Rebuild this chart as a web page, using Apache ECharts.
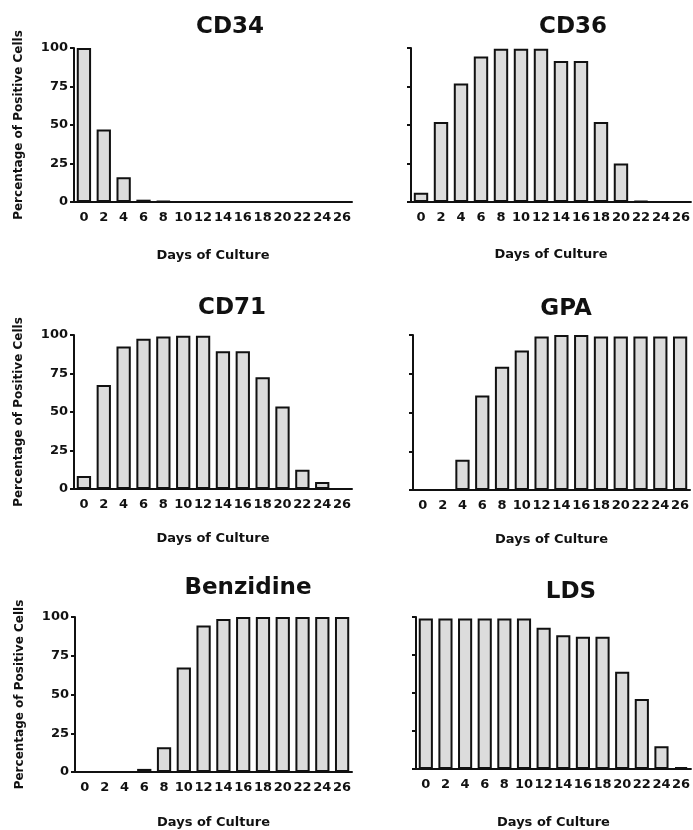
<!DOCTYPE html>
<html>
<head>
<meta charset="utf-8">
<script src="https://cdn.jsdelivr.net/npm/echarts@6/dist/echarts.min.js"></script>
<style>
  html, body { margin: 0; padding: 0; background: #fff; }
  #chart { width: 693px; height: 830px; }
</style>
</head>
<body>
<div id="chart"></div>
<script>
  // days of culture (categories)
  var days = ['0', '2', '4', '6', '8', '10', '12', '14', '16', '18', '20', '22', '24', '26'];

  // percentage of positive cells
  var cd34 = [100, 47, 16, 1.5, 0.5, 0, 0, 0, 0, 0, 0, 0, 0, 0];
  var cd36 = [6, 52, 77, 94.5, 99.5, 99.5, 99.5, 91.5, 91.5, 52, 25, 0.6, 0, 0];
  var cd71 = [8.5, 67.5, 92.5, 97.5, 99, 99.5, 99.5, 89.5, 89.5, 72.5, 53.5, 12.5, 4.5, 0];
  var gpa = [0, 0, 19.5, 61, 79.5, 90, 99, 100, 100, 99, 99, 99, 99, 99];
  var benzidine = [0, 0, 0, 2, 16, 67.5, 94.5, 98.7, 100, 100, 100, 100, 100, 100];
  var lds = [99, 99, 99, 99, 99, 99, 93, 88, 87, 87, 64, 46, 15, 1.3];

  var FONT = 'DejaVu Sans';
  var INK = '#111';

  var panels = [
    { name: 'CD34', data: cd34, left: 74, top: 48, width: 278, height: 154, tx: 230, ty: 27, gap: 47, yLabels: true },
    { name: 'CD36', data: cd36, left: 411, top: 48, width: 280, height: 154, tx: 573, ty: 27, gap: 46, yLabels: false },
    { name: 'CD71', data: cd71, left: 74, top: 335, width: 278, height: 154, tx: 232, ty: 308, gap: 43, yLabels: true },
    { name: 'GPA', data: gpa, left: 413, top: 335, width: 277, height: 155, tx: 566, ty: 309, gap: 43, yLabels: false },
    { name: 'Benzidine', data: benzidine, left: 75, top: 617, width: 277, height: 155, tx: 248, ty: 588, gap: 44, yLabels: true },
    { name: 'LDS', data: lds, left: 416, top: 617, width: 279, height: 155, tx: 571, ty: 592, gap: 47, yLabels: false }
  ];

  var titles = [], grids = [], xAxes = [], yAxes = [], series = [];

  panels.forEach(function (p, i) {
    titles.push({
      text: p.name,
      left: p.tx,
      top: p.ty - 13,
      textAlign: 'center',
      padding: 0,
      textStyle: { fontFamily: FONT, fontSize: 23, fontWeight: 'bold', color: INK, lineHeight: 26 }
    });
    grids.push({ left: p.left, top: p.top, width: p.width, height: p.height, containLabel: false });
    xAxes.push({
      type: 'category',
      gridIndex: i,
      data: days,
      name: 'Days of Culture',
      nameLocation: 'middle',
      nameGap: p.gap,
      nameTextStyle: { fontFamily: FONT, fontSize: 13, fontWeight: 'bold', color: INK },
      axisLine: { lineStyle: { color: INK, width: 2 } },
      axisTick: { alignWithLabel: true, length: 3, lineStyle: { color: INK, width: 2 } },
      axisLabel: { interval: 0, margin: 9, fontFamily: FONT, fontSize: 13, fontWeight: 'bold', color: INK },
      splitLine: { show: false }
    });
    yAxes.push({
      type: 'value',
      gridIndex: i,
      min: 0,
      max: 100,
      interval: 25,
      name: p.yLabels ? 'Percentage of Positive Cells' : '',
      nameLocation: 'middle',
      nameGap: 49,
      nameTextStyle: { fontFamily: FONT, fontSize: 12, fontWeight: 'bold', color: INK },
      axisLine: { show: true, lineStyle: { color: INK, width: 2 } },
      axisTick: { show: true, length: 4, lineStyle: { color: INK, width: 2 } },
      axisLabel: { show: p.yLabels, margin: 6, fontFamily: FONT, fontSize: 13, fontWeight: 'bold', color: INK },
      splitLine: { show: false }
    });
    series.push({
      type: 'bar',
      name: p.name,
      xAxisIndex: i,
      yAxisIndex: i,
      data: p.data,
      barCategoryGap: '28%',
      itemStyle: { color: '#dcdcdc', borderColor: INK, borderWidth: 2 },
      silent: true
    });
  });

  var chart = echarts.init(document.getElementById('chart'), null, { renderer: 'canvas' });
  chart.setOption({
    backgroundColor: '#fff',
    animation: false,
    title: titles,
    grid: grids,
    xAxis: xAxes,
    yAxis: yAxes,
    series: series
  });
</script>
</body>
</html>
